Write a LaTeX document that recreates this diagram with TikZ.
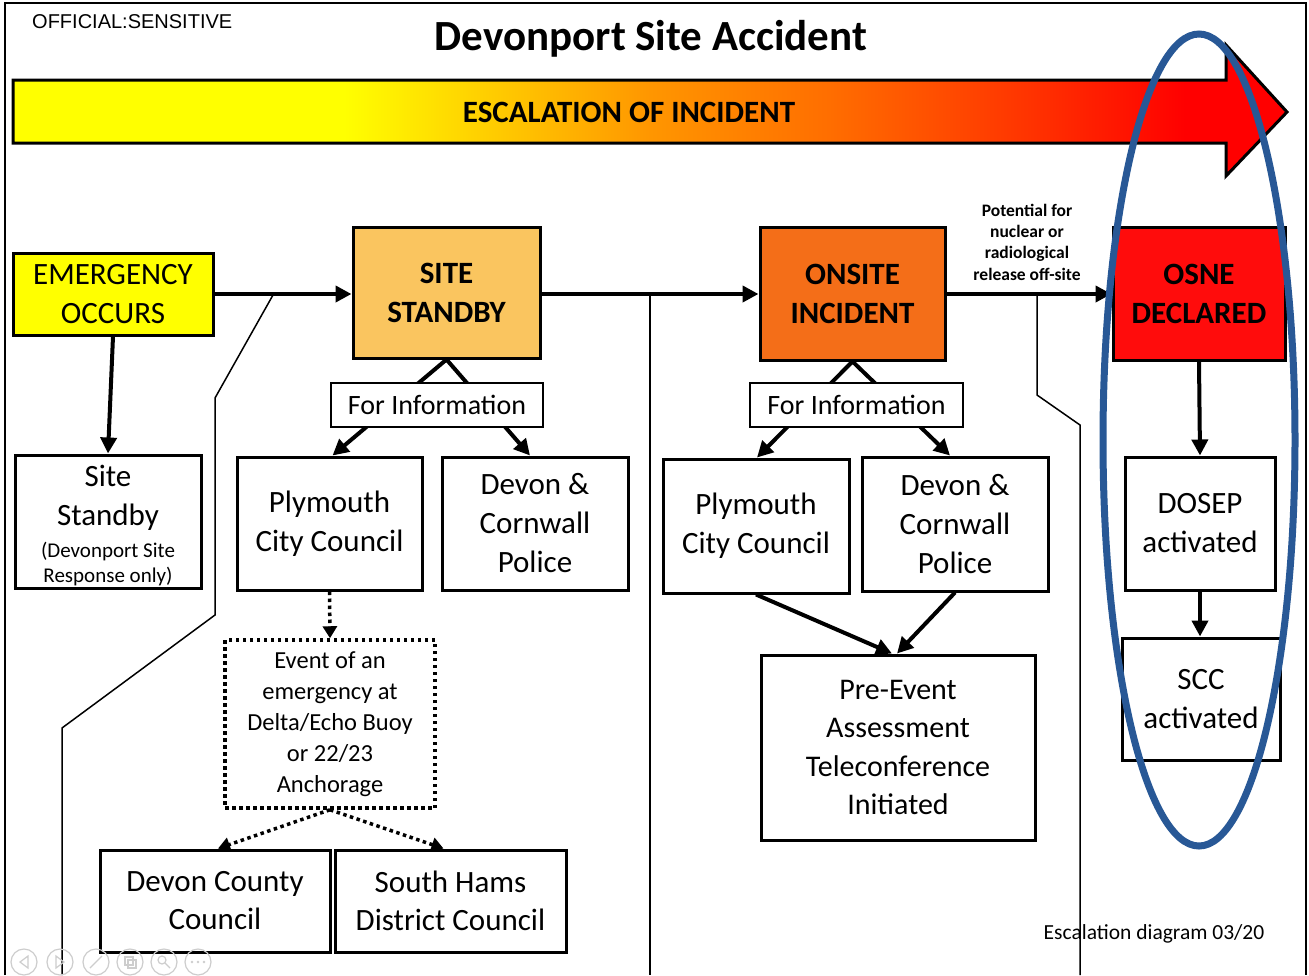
\documentclass[tikz,border=0pt]{standalone}
\usepackage{fontspec}
\setmainfont{Carlito}
\newfontfamily\arialf{Liberation Sans}
\usetikzlibrary{arrows.meta,shapes.geometric}
\definecolor{ylw}{RGB}{255,255,0}
\definecolor{escA}{RGB}{255,255,0}
\definecolor{escB}{RGB}{255,150,0}
\definecolor{escC}{RGB}{255,110,0}
\definecolor{escD}{RGB}{255,50,0}
\definecolor{escE}{RGB}{255,0,0}
\definecolor{sbfill}{RGB}{250,197,95}
\definecolor{onfill}{RGB}{244,110,24}
\definecolor{osfill}{RGB}{255,12,12}
\definecolor{ellblue}{RGB}{40,88,150}
\definecolor{icongray}{RGB}{205,205,205}
\pgfdeclarehorizontalshading{escal}{100bp}{color(0bp)=(escA); color(25bp)=(escA); color(38bp)=(escA); color(50bp)=(escB); color(57bp)=(escC); color(65bp)=(escD); color(71bp)=(escE); color(75bp)=(escE); color(100bp)=(escE)}
\tikzset{
  bigbox/.style={draw, line width=3pt, inner sep=0pt, align=center, font=\fontsize{31}{39}\selectfont},
  headbox/.style={bigbox, font=\bfseries\fontsize{31}{39}\selectfont},
  infobox/.style={draw, line width=1.8pt, fill=white, inner sep=0pt, font=\fontsize{28}{34}\selectfont},
  dotbox/.style={draw, line width=3.5pt, dash pattern=on 3.5pt off 3.5pt, inner sep=0pt, align=center, font=\fontsize{24.5}{31}\selectfont},
  conn/.style={line width=4pt, -{Triangle[length=16pt,width=16pt]}},
  dotconn/.style={line width=3.5pt, dash pattern=on 3.5pt off 3.5pt, -{Triangle[length=12pt,width=14pt]}},
  sepline/.style={line width=1.5pt},
  icon/.style={draw=icongray, line width=1.2pt},
}
\begin{document}
\begin{tikzpicture}[x=1pt,y=-1pt]
\useasboundingbox (0,0) rectangle (1309,975);
\fill[white] (0,0) rectangle (1309,975);

% frame
\draw[line width=2pt] (5,975) -- (5,3) -- (1306,3) -- (1306,975);

% header texts
\node[anchor=base west, font=\arialf\fontsize{20}{24}\selectfont, inner sep=0pt] (official) at (32,28) {OFFICIAL:SENSITIVE};
\node[anchor=base, font=\bfseries\fontsize{43}{50}\selectfont, inner sep=0pt] (title) at (651,50) {Devonport Site Accident};

% escalation arrow
\path[shading=escal, draw=black, line width=3pt, line join=miter]
  (13,80) -- (1226,80) -- (1226,45) -- (1287,112) -- (1226,176) -- (1226,143) -- (13,143) -- cycle;
\node[font=\bfseries\fontsize{31}{37}\selectfont, inner sep=0pt] (esc) at (629,112) {ESCALATION OF INCIDENT};

% main boxes
\node[bigbox, fill=ylw, minimum width=200pt, minimum height=82pt] (emerg) at (113,294) {EMERGENCY\\OCCURS};
\node[headbox, fill=sbfill, minimum width=187pt, minimum height=131pt] (sb) at (446.5,292.5) {SITE\\STANDBY};
\node[headbox, fill=onfill, minimum width=185pt, minimum height=133pt] (on) at (852.5,293.5) {ONSITE\\INCIDENT};
\node[headbox, fill=osfill, minimum width=172pt, minimum height=133pt] (osne) at (1199,293.5) {OSNE\\DECLARED};

% second row
\node[draw, line width=3pt, inner sep=0pt, minimum width=186pt, minimum height=133pt] (sitesb) at (108,521.5)
  {\parbox{184pt}{\vspace*{8pt}\centering\fontsize{31}{39}\selectfont Site\\Standby\\[7pt]\fontsize{21}{25}\selectfont (Devonport Site\\Response only)\par}};
\node[bigbox, minimum width=185pt, minimum height=133pt] (ply1) at (329.5,523.5) {Plymouth\\City Council};
\node[bigbox, minimum width=186pt, minimum height=133pt] (dev1) at (535,523.5) {Devon \&\\Cornwall\\Police};
\node[bigbox, minimum width=186pt, minimum height=134pt] (ply2) at (756,526) {Plymouth\\City Council};
\node[bigbox, minimum width=186pt, minimum height=134pt] (dev2) at (955,524) {Devon \&\\Cornwall\\Police};
\node[bigbox, minimum width=150pt, minimum height=133pt] (dosep) at (1200,523.5) {DOSEP\\activated};

% lower boxes
\node[dotbox, minimum width=210pt, minimum height=168pt] (evt) at (330,724) {Event of an\\emergency at\\Delta/Echo Buoy\\or 22/23\\Anchorage};
\node[bigbox, minimum width=230pt, minimum height=102pt, font=\fontsize{31}{38}\selectfont] (dcc) at (215,901) {Devon County\\Council};
\node[bigbox, minimum width=231pt, minimum height=102pt, font=\fontsize{31}{38}\selectfont] (shd) at (450.5,901) {South Hams\\District Council};
\node[bigbox, minimum width=274pt, minimum height=185pt, font=\fontsize{30}{38.5}\selectfont] (pre) at (898,747.5) {Pre-Event\\Assessment\\Teleconference\\Initiated};
\node[bigbox, minimum width=158pt, minimum height=122pt] (scc) at (1201,699) {SCC\\activated};

% potential label
\node[align=center, font=\bfseries\fontsize{17.5}{21.3}\selectfont, inner sep=0pt] (pot) at (1027,242) {Potential for\\nuclear or\\radiological\\release off-site};

% main flow connectors
\draw[conn] (emerg.east) -- (emerg.east -| sb.west);
\draw[conn] (sb.east |- emerg.east) -- (emerg.east -| on.west);
\draw[conn] (on.east |- emerg.east) -- (emerg.east -| osne.west);
\draw[conn] (emerg.south) -- (sitesb.north);

% for information fans
\draw[conn] (sb.south) -- ([xshift=3pt]ply1.north);
\draw[conn] (sb.south) -- ([xshift=-5pt]dev1.north);
\draw[conn] (on.south) -- ([xshift=1pt]ply2.north);
\draw[conn] (on.south) -- ([xshift=-5pt]dev2.north);
\node[infobox, minimum width=212pt, minimum height=44pt] (info1) at (437,405) {For Information};
\node[infobox, minimum width=213pt, minimum height=44pt] (info2) at (856.5,405) {For Information};

% pre-event
\draw[conn] (ply2.south) -- ([xshift=-6pt]pre.north);
\draw[conn] (dev2.south) -- ([xshift=-1pt]pre.north);

% right column
\draw[conn] (osne.south) -- (dosep.north);
\draw[conn] (dosep.south) -- (dosep.south |- scc.north);

% dotted
\draw[dotconn] (ply1.south) -- (evt.north);
\draw[dotconn] (evt.south) -- ([xshift=3pt]dcc.north);
\draw[dotconn] (evt.south) -- ([xshift=-7pt]shd.north);

% footer text
\node[anchor=base, font=\fontsize{21.5}{26}\selectfont, inner sep=0pt] (foot) at (1154,939) {Escalation diagram 03/20};

% separator lines
\coordinate (s1) at (273,295);
\coordinate (s2) at (650,295);
\coordinate (s3) at (1037,295);
\draw[sepline] (s1) -- (215,398) -- (215,615) -- (62,728) -- (62,975);
\draw[sepline] (s2) -- (650,975);
\draw[sepline] (s3) -- (1037,395) -- (1080,425) -- (1080,975);

% faint slideshow icons
\foreach \cx in {24,60,96,130,164,198}{
  \draw[icon] (\cx,962) circle (13pt);
}
\draw[icon] (28,956) -- (20,962) -- (28,968) -- cycle;
\draw[icon] (56,956) -- (64,962) -- (56,968) -- cycle;
\draw[icon] (90,968) -- (102,956);
\draw[icon] (125,957) rectangle (133,965);
\draw[icon] (128,960) rectangle (136,968);
\draw[icon] (162,960) circle (4pt);
\draw[icon] (165,963) -- (170,968);
\fill[icongray] (192,962) circle (1.3pt) (198,962) circle (1.3pt) (204,962) circle (1.3pt);

% blue ellipse
\draw[ellblue, line width=7pt] (1199,440) ellipse [x radius=96pt, y radius=406pt];
\end{tikzpicture}
\end{document}
